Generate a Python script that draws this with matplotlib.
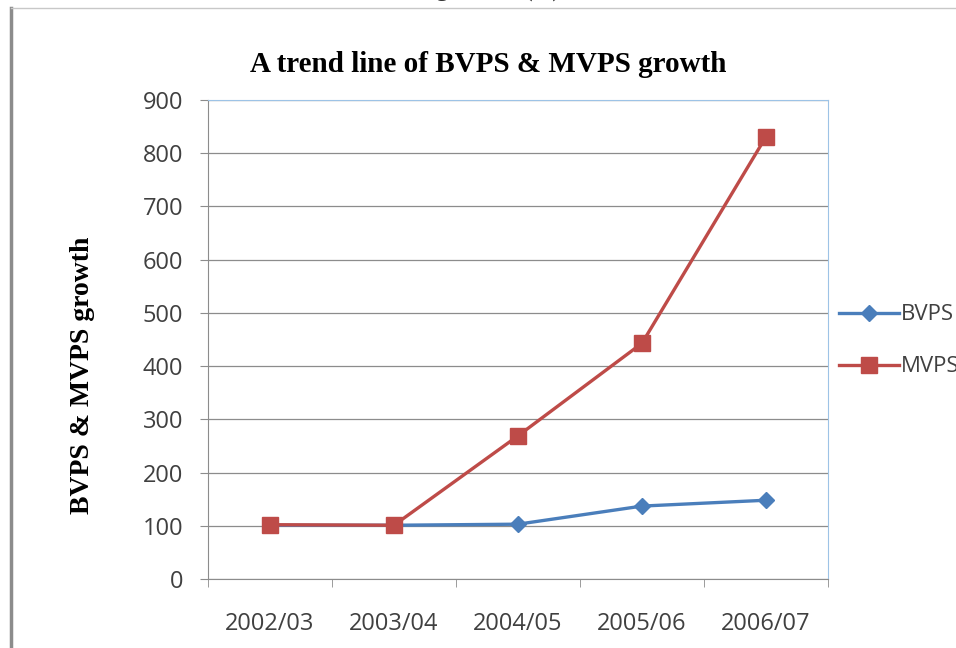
import numpy as np
import matplotlib.pyplot as plt
from matplotlib.lines import Line2D

years = ['2002/03', '2003/04', '2004/05', '2005/06', '2006/07']
bvps = [101, 101, 103, 137, 148]
mvps = [102, 101, 269, 443, 831]

fig = plt.figure(figsize=(9.56, 6.48), dpi=100)
fig.patch.set_facecolor('white')

# page frame lines
fig.add_artist(Line2D([0.011, 0.011], [0, 0.988], color='#8c8c8c', lw=2.5))
fig.add_artist(Line2D([0.011, 1.0], [0.988, 0.988], color='#c8c8c8', lw=1))
fig.text(0.51, 1.014, 'Figure 4.4 (xi)', ha='center', va='center',
         fontsize=18, family='Liberation Serif', color='#333333')

ax = fig.add_axes([208/956, 1 - 579/648, 620/956, 479/648])
x = np.arange(len(years))

ax.plot(x, bvps, color='#4a7ebb', lw=2.4, marker='D', ms=8, label='BVPS', zorder=3)
ax.plot(x, mvps, color='#be4b48', lw=2.4, marker='s', ms=11, label='MVPS', zorder=4)

ax.set_xlim(-0.5, 4.5)
ax.set_ylim(0, 900)
ax.set_yticks(np.arange(0, 901, 100))
ax.set_xticks(x)
ax.set_xticklabels(years)
ax.set_xticks(np.arange(-0.5, 4.6, 1), minor=True)
ax.tick_params(axis='x', which='major', length=0, pad=24, labelsize=17, labelcolor='#404040')
ax.tick_params(axis='x', which='minor', length=6, color='#8c8c8c', direction='out')
ax.tick_params(axis='y', length=6, color='#8c8c8c', labelsize=17, labelcolor='#404040', pad=12)
for lab in ax.get_xticklabels() + ax.get_yticklabels():
    lab.set_family('Open Sans')

ax.grid(axis='y', color='#8c8c8c', lw=0.9)
ax.set_axisbelow(True)
ax.spines['left'].set_color('#8c8c8c')
ax.spines['bottom'].set_color('#8c8c8c')
ax.spines['top'].set_color('#9dc3e6')
ax.spines['right'].set_color('#9dc3e6')

ax.set_title('A trend line of BVPS & MVPS growth', family='Liberation Serif',
             fontweight='bold', fontsize=21, pad=20, x=0.452)
ax.set_ylabel('BVPS & MVPS growth', family='Liberation Serif', fontweight='bold',
              fontsize=20)
ax.yaxis.set_label_coords(-0.183, 0.426)

leg = ax.legend(loc='center left', bbox_to_anchor=(1.0, 0.497), frameon=False,
                prop={'family': 'Open Sans', 'size': 16}, handlelength=2.7,
                handletextpad=0.1, labelspacing=1.4, borderaxespad=0.1)
for t in leg.get_texts():
    t.set_color('#404040')

fig.savefig('out.png', dpi=100)
